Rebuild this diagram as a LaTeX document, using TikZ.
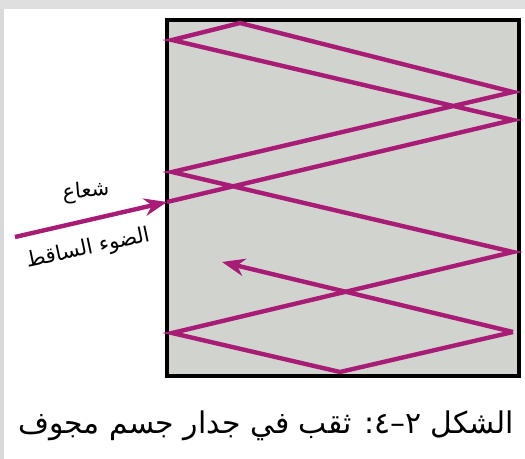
\documentclass[tikz,border=0pt]{standalone}
\usepackage{fontspec}
\usepackage{tikz}
\usetikzlibrary{arrows.meta, positioning}
\newfontfamily\arabicfont[Script=Arabic]{DejaVu Sans}
\TeXXeTstate=1
\definecolor{raycol}{RGB}{168,28,118}
\definecolor{wallgray}{RGB}{209,211,207}
\tikzstyle{cavity} = [draw=black, line width=2.3pt, fill=wallgray]
\tikzstyle{ray} = [line width=2.5pt, draw=raycol, line join=miter, miter limit=20]
\tikzstyle{arrow} = [ray, -{Stealth[length=13pt,width=10pt]}]
\tikzstyle{label} = [font=\arabicfont\fontsize{12}{14}\selectfont, inner sep=0pt]
\tikzstyle{caption} = [font=\arabicfont\fontsize{17}{21}\selectfont, inner sep=0pt]

\begin{document}
\begin{tikzpicture}[x=0.02cm, y=-0.02cm]
\useasboundingbox (0,0) rectangle (525,459);
% page shadow
\fill [gray!25] (0,0) rectangle (525,9);
\fill [gray!30] (0,9) rectangle (4,459);

\draw [cavity] (167,20) rectangle (519,376);

\coordinate (src) at (15,237);
\coordinate (hole) at (167,202);
\coordinate (r1) at (513,120);
\coordinate (l1) at (172,40);
\coordinate (t1) at (240,23);
\coordinate (r2) at (513,92);
\coordinate (l2) at (172,172);
\coordinate (r3) at (513,252);
\coordinate (l3) at (172,333);
\coordinate (b1) at (340,372);
\coordinate (r4) at (513,332);
\coordinate (last) at (222,262);

\draw [ray] (hole) -- (r1) -- (l1) -- (t1) -- (r2) -- (l2) -- (r3) -- (l3) -- (b1) -- (r4);
\draw [arrow] (src) -- (hole);
\draw [arrow] (r4) -- (last);

\node (ray) [label, rotate=5] at (86,192) {\beginR شعاع\endR};
\node (incident) [label, rotate=12] at (88,249) {\beginR الضوء الساقط\endR};
\node (title) [caption] at (266,426) {\beginR الشكل ٢–٤: ثقب في جدار جسم مجوف\endR};
\end{tikzpicture}
\end{document}
